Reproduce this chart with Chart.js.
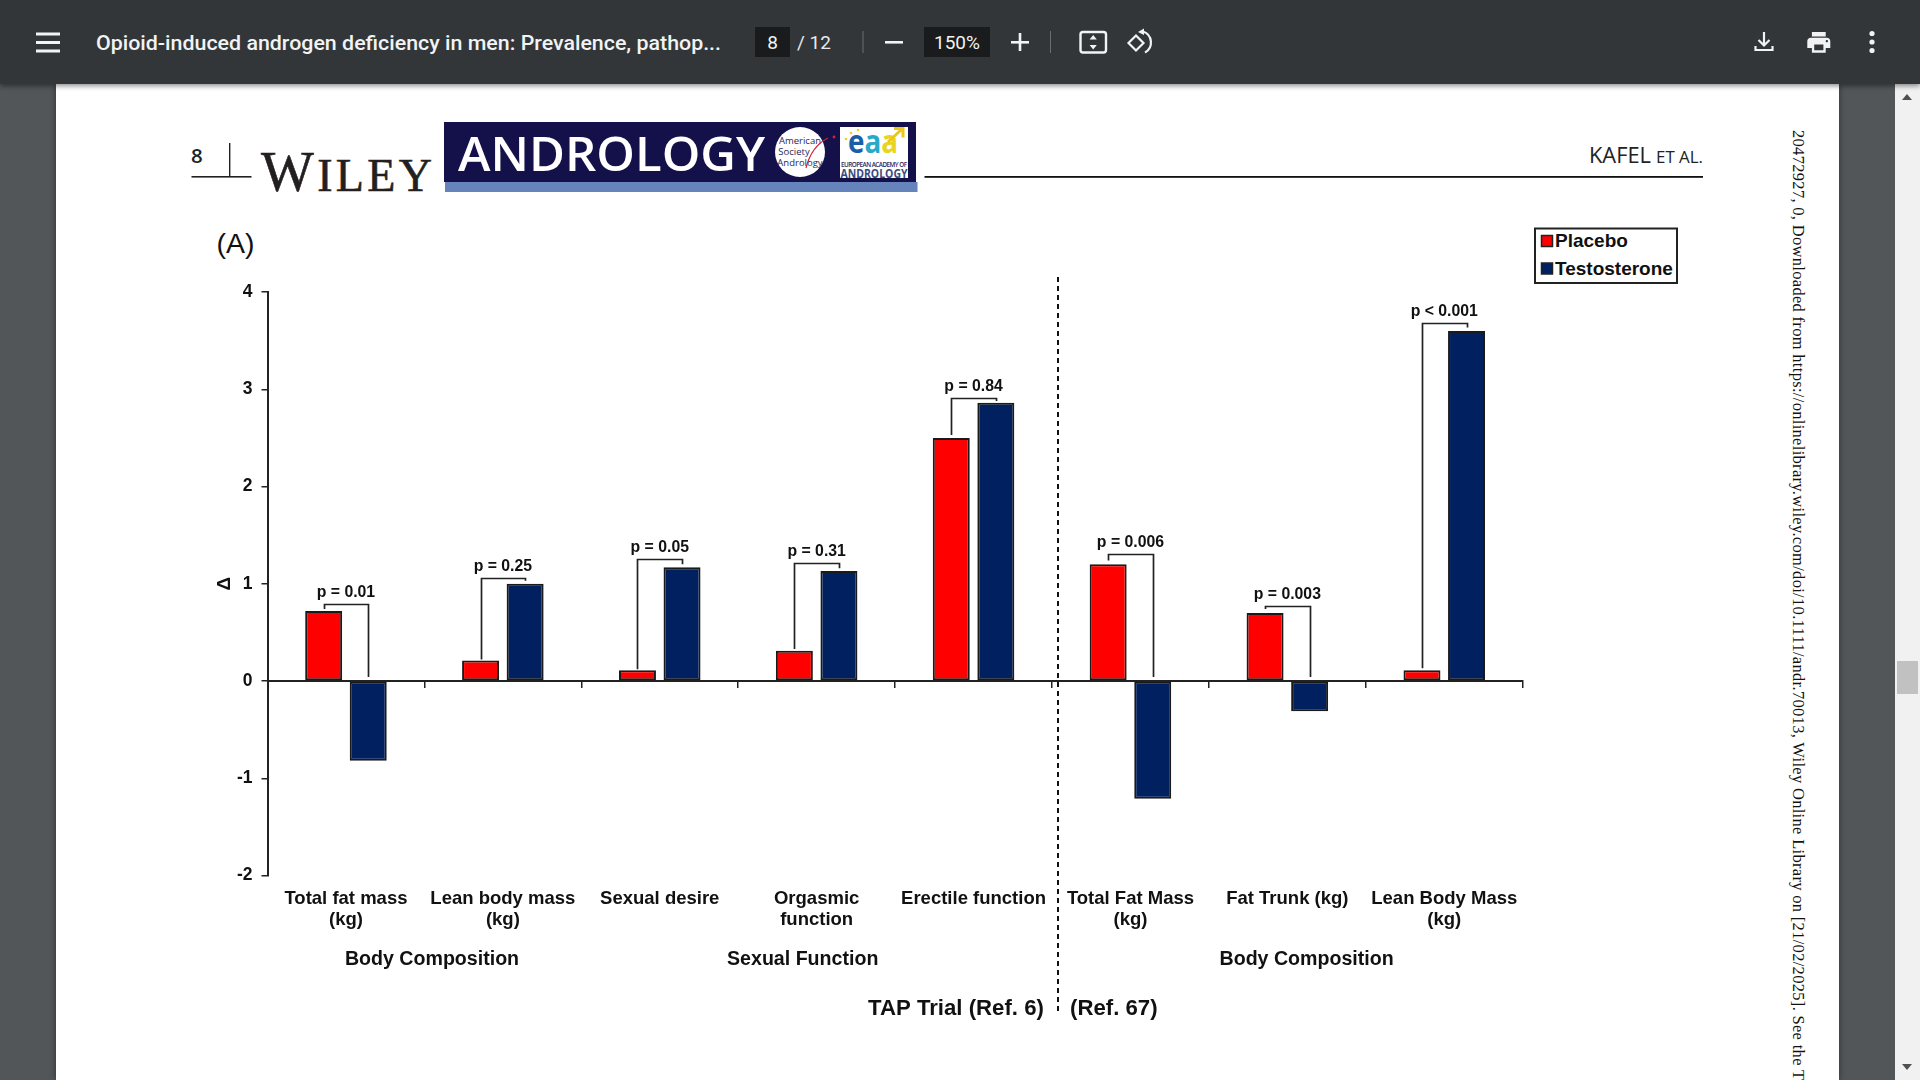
<!DOCTYPE html>
<html><head><meta charset="utf-8">
<style>
html,body{margin:0;padding:0;width:1920px;height:1080px;overflow:hidden;background:#525659;}
#page{position:absolute;left:56px;top:84px;width:1783px;height:996px;background:#fff;box-shadow:0 0 6px rgba(0,0,0,.45);}
#sb{position:absolute;left:1895px;top:84px;width:25px;height:996px;background:#f1f1f1;}
#bar{position:absolute;left:0;top:0;width:1920px;height:84px;background:#323639;box-shadow:0 2px 5px rgba(0,0,0,.45);}
svg,canvas{position:absolute;left:0;top:0;}
</style>
<script src="https://cdn.jsdelivr.net/npm/chart.js@4"></script>
</head><body>
<div id="page"></div><div id="sb"></div><div id="bar"></div>
<svg width="1920" height="1080" viewBox="0 0 1920 1080">
  <!-- toolbar -->
  <g fill="#f1f3f4">
    <rect x="36" y="32.5" width="24" height="3"/><rect x="36" y="41" width="24" height="3"/><rect x="36" y="49.5" width="24" height="3"/>
  </g>
  <text x="96" y="50" font-family="Roboto" font-weight="500" font-size="20" fill="#f1f3f4" textLength="625" lengthAdjust="spacingAndGlyphs">Opioid-induced androgen deficiency in men: Prevalence, pathop...</text>
  <rect x="755" y="27" width="35" height="30" fill="#191b1c"/>
  <text x="772.5" y="49" text-anchor="middle" font-family="Roboto" font-size="19" fill="#f1f3f4">8</text>
  <text x="797" y="49" font-family="Roboto" font-size="19" fill="#e8eaed" textLength="34">/ 12</text>
  <rect x="862.5" y="31" width="1" height="22" fill="#6a6e72"/>
  <rect x="885" y="41" width="18" height="2.6" fill="#f1f3f4"/>
  <rect x="924" y="27" width="66" height="30" fill="#191b1c"/>
  <text x="957" y="49" text-anchor="middle" font-family="Roboto" font-size="19" fill="#f1f3f4">150%</text>
  <rect x="1011" y="41" width="18" height="2.6" fill="#f1f3f4"/><rect x="1018.7" y="33" width="2.6" height="18" fill="#f1f3f4"/>
  <rect x="1050" y="31" width="1" height="22" fill="#6a6e72"/>
  <g fill="none" stroke="#f1f3f4" stroke-width="2.4">
    <rect x="1080.5" y="32" width="25.5" height="20.5" rx="2.5"/>
  </g>
  <path d="M1093.2 35l3.6 4.5h-7.2zM1093.2 49.5l3.6-4.5h-7.2z" fill="#f1f3f4"/>
  <g fill="none" stroke="#f1f3f4" stroke-width="2.2">
    <path d="M1136 35.5l7.5 7.5-7.5 7.5-7.5-7.5z"/>
    <path d="M1143 31.5a11.5 11.5 0 0 1 2 21"/>
  </g>
  <path d="M1144 28.5l-6 3.5 6 3z" fill="#f1f3f4"/>
  <g fill="none" stroke="#f1f3f4" stroke-width="2.2">
    <path d="M1764 32v13M1758.5 40l5.5 5.5 5.5-5.5"/><path d="M1755.5 46v4h17v-4"/>
  </g>
  <path transform="translate(1805 28.5) scale(1.15)" fill="#f1f3f4" d="M19 8H5c-1.66 0-3 1.34-3 3v6h4v4h12v-4h4v-6c0-1.66-1.34-3-3-3zm-3 11H8v-5h8v5zm3-7c-.55 0-1-.45-1-1s.45-1 1-1 1 .45 1 1-.45 1-1 1zm-1-9H6v4h12V3z" />
  <g fill="#f1f3f4"><circle cx="1872" cy="33.5" r="2.6"/><circle cx="1872" cy="42" r="2.6"/><circle cx="1872" cy="50.5" r="2.6"/></g>
  <!-- scrollbar -->
  <path d="M1902 100l5-6 5 6z" fill="#505050"/><path d="M1902 1064l5 6 5-6z" fill="#505050"/>
  <rect x="1897" y="661" width="21" height="33" fill="#c1c1c1"/>
  <!-- running head -->
  <text x="191" y="163" font-family="Open Sans" font-weight="600" font-size="20.5" fill="#222">8</text>
  <rect x="191.5" y="176" width="60" height="1.6" fill="#222"/>
  <rect x="229" y="143" width="1.4" height="33" fill="#222"/>
  <text x="261" y="190.5" font-family="Liberation Serif" fill="#231f20" stroke="#231f20" stroke-width="0.6" font-size="46" textLength="171" lengthAdjust="spacing"><tspan font-size="56">W</tspan>ILEY</text>
  <rect x="444" y="122" width="472" height="60" fill="#14104a"/>
  <rect x="445" y="182" width="472.5" height="10" fill="#6484bb"/>
  <text x="458" y="170.5" font-family="Open Sans" font-weight="600" font-size="47.5" fill="#fff" textLength="307" lengthAdjust="spacingAndGlyphs">ANDROLOGY</text>
  <circle cx="800" cy="152" r="25" fill="#fff"/>
  <g font-family="Open Sans" font-size="9.5" fill="#27285c" text-anchor="middle">
    <text x="800" y="144">American</text><text x="794" y="155">Society</text><text x="800" y="165.500">Andrology</text>
  </g>
  <path d="M806 168c3-12 10-24 22-30" stroke="#d8203a" stroke-width="1.2" fill="none"/><circle cx="834" cy="137" r="1.4" fill="#d8203a"/>
  <rect x="840" y="127" width="68" height="51" fill="#fff"/>
  <text x="848" y="153" font-family="Open Sans" font-weight="700" font-size="32" textLength="50" lengthAdjust="spacingAndGlyphs"><tspan fill="#1b5ea6">e</tspan><tspan fill="#29a9c9">a</tspan><tspan fill="#e9d421">a</tspan></text>
  <path d="M888 142l13-12M894 128.500h9v9" stroke="#e9c71a" stroke-width="3" fill="none"/>
  <g fill="#e9d421"><circle cx="846" cy="139" r="1.3"/><circle cx="851" cy="133" r="1.3"/><circle cx="858" cy="130" r="1.3"/></g>
  <text x="841" y="167" font-family="Open Sans" font-weight="600" font-size="6.3" fill="#27285c" textLength="66">EUROPEAN ACADEMY OF</text>
  <text x="840.5" y="177.500" font-family="Open Sans" font-weight="700" font-size="12" fill="#3a4a80" textLength="67" lengthAdjust="spacingAndGlyphs">ANDROLOGY</text>
  <rect x="924.5" y="176" width="778.5" height="1.8" fill="#111"/>
  <text x="1589" y="163" font-family="Open Sans" font-size="21" fill="#222" textLength="62" lengthAdjust="spacingAndGlyphs">KAFEL</text>
  <text x="1656" y="163" font-family="Open Sans" font-size="15.5" fill="#222" textLength="47" lengthAdjust="spacingAndGlyphs">ET AL.</text>
  <text transform="translate(1793 130) rotate(90)" font-family="Liberation Serif" font-size="16.5" fill="#111" textLength="950" lengthAdjust="spacing">20472927, 0, Downloaded from https://onlinelibrary.wiley.com/doi/10.1111/andr.70013, Wiley Online Library on [21/02/2025]. See the T</text>
  <!-- panel letter -->
  <text x="216.5" y="252.5" font-family="Liberation Sans" font-size="28.5" fill="#111">(A)</text>
  <!-- legend frame -->
  <rect x="1535" y="228.5" width="142" height="54.5" fill="#fff" stroke="#222" stroke-width="2"/>
  <g id="legend"></g>
</svg>
<canvas id="c" width="1920" height="1080"></canvas>
<script>
const categories = [['Total fat mass','(kg)'],['Lean body mass','(kg)'],'Sexual desire',['Orgasmic','function'],'Erectile function',['Total Fat Mass','(kg)'],'Fat Trunk (kg)',['Lean Body Mass','(kg)']];
const placebo = [0.72,0.21,0.11,0.31,2.5,1.2,0.7,0.11];
const testosterone = [-0.82,1.0,1.17,1.13,2.86,-1.21,-0.31,3.6];
const seriesNames = ['Placebo','Testosterone'];
const seriesColors = ['#ff0000','#002060'];
const pLabels = ['p = 0.01','p = 0.25','p = 0.05','p = 0.31','p = 0.84','p = 0.006','p = 0.003','p < 0.001'];
const bracketTop = [0.79,1.06,1.25,1.21,2.915,1.305,0.77,3.685];
const bracketLeftEnd = [0.74,0.22,0.12,0.33,2.53,1.24,0.74,0.13];
const bracketRightEnd = [0.04,1.03,1.2,1.16,2.88,0.04,0.04,3.635];

// legend built from the series
const svgNS='http://www.w3.org/2000/svg', lg=document.getElementById('legend');
seriesNames.forEach((n,i)=>{
  const y=[241,268.5][i];
  const r=document.createElementNS(svgNS,'rect');
  r.setAttribute('x',1541.5);r.setAttribute('y',y-5.5);r.setAttribute('width',11);r.setAttribute('height',11);
  r.setAttribute('fill',seriesColors[i]);r.setAttribute('stroke','#222');r.setAttribute('stroke-width','1.5');lg.appendChild(r);
  const t=document.createElementNS(svgNS,'text');
  t.setAttribute('x',1555);t.setAttribute('y',y+6);t.setAttribute('font-family','Liberation Sans');t.setAttribute('font-weight','700');
  t.setAttribute('font-size',19);t.setAttribute('fill','#111');t.textContent=n;lg.appendChild(t);
});

const annotate = {
  id:'annotate',
  afterDatasetsDraw(chart){
    const {ctx,scales:{x,y}}=chart;
    const red=chart.getDatasetMeta(0).data, blue=chart.getDatasetMeta(1).data;
    ctx.save();
    ctx.strokeStyle='#222';ctx.lineWidth=1.7;ctx.fillStyle='#111';
    ctx.font='bold 15.8px "Liberation Sans"';ctx.textAlign='center';ctx.textBaseline='middle';
    pLabels.forEach((lab,i)=>{
      const lx=Math.round(red[i].x)+.5, rx=Math.round(blue[i].x)+.5, ty=Math.round(y.getPixelForValue(bracketTop[i]))+.5;
      ctx.beginPath();
      ctx.moveTo(lx,y.getPixelForValue(bracketLeftEnd[i]));ctx.lineTo(lx,ty);ctx.lineTo(rx,ty);ctx.lineTo(rx,y.getPixelForValue(bracketRightEnd[i]));
      ctx.stroke();
      ctx.fillText(lab,x.getPixelForValue(i),ty-11.5);
    });
    // divider between the two trials
    ctx.strokeStyle='#111';ctx.lineWidth=2;ctx.setLineDash([5,4]);
    ctx.beginPath();ctx.moveTo(1058,277);ctx.lineTo(1058,1015);ctx.stroke();ctx.setLineDash([]);
    // group captions
    ctx.font='bold 19.6px "Liberation Sans"';
    ctx.fillText('Body Composition',432,960);
    ctx.fillText('Sexual Function',802.7,960);
    ctx.fillText('Body Composition',1306.6,960);
    ctx.font='bold 22.2px "Liberation Sans"';ctx.textAlign='left';
    ctx.fillText('TAP Trial (Ref. 6)',868,1009);
    ctx.fillText('(Ref. 67)',1070,1009);
    ctx.restore();
  }
};

new Chart(document.getElementById('c'),{
  type:'bar',
  data:{labels:categories,datasets:[
    {label:seriesNames[0],data:placebo,backgroundColor:seriesColors[0],borderColor:'#1a1a1a',borderWidth:2,borderSkipped:false,xAxisID:'x',yAxisID:'y',categoryPercentage:0.568,barPercentage:0.83},
    {label:seriesNames[1],data:testosterone,backgroundColor:seriesColors[1],borderColor:'#1a1a1a',borderWidth:2,borderSkipped:false,xAxisID:'x',yAxisID:'y',categoryPercentage:0.568,barPercentage:0.83}
  ]},
  plugins:[annotate],
  options:{
    responsive:false,animation:false,devicePixelRatio:1,
    layout:{padding:{left:213,top:292,right:397.3,bottom:0}},
    plugins:{legend:{display:false},tooltip:{enabled:false}},
    scales:{
      x:{type:'category',position:'bottom',offset:true,
        grid:{display:false},border:{display:false},
        afterFit:s=>{s.height=204.5;},
        ticks:{autoSkip:false,maxRotation:0,minRotation:0,padding:5,color:'#111',font:{family:'Liberation Sans',weight:'bold',size:18.5,lineHeight:1.14}}},
      x2:{type:'category',axis:'x',labels:categories,position:{y:0},offset:true,
        grid:{offset:true,drawOnChartArea:false,drawTicks:true,tickLength:6,color:'#222',lineWidth:1.5},
        border:{display:true,color:'#222',width:2},
        ticks:{display:false}},
      y:{type:'linear',min:-2,max:4,position:'left',
        afterFit:s=>{s.width=54.5;},
        grid:{drawOnChartArea:false,drawTicks:true,tickLength:6,color:'#222',lineWidth:1.5},
        border:{display:true,color:'#222',width:2},
        ticks:{stepSize:1,padding:9,color:'#111',font:{family:'Liberation Sans',weight:'bold',size:17.5}},
        title:{display:true,text:'Δ',color:'#111',padding:0,font:{family:'Liberation Sans',weight:'bold',size:19}}}
    }
  }
});
</script>
</body></html>
